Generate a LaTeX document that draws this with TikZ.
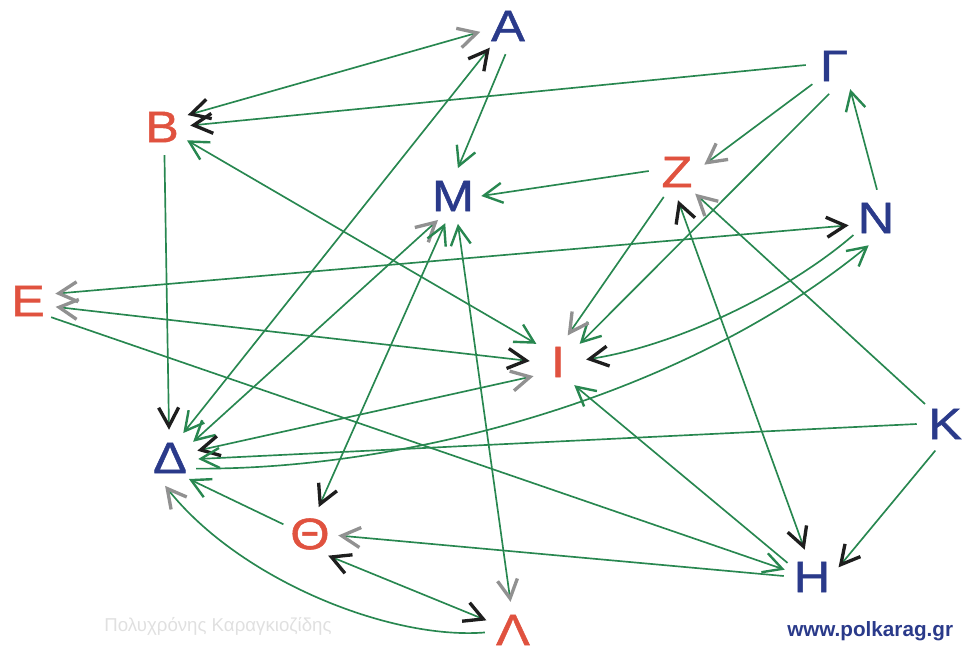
\documentclass[tikz,border=0pt]{standalone}
\usepackage{fontspec}
\setmainfont{Liberation Sans}
\newfontfamily\lf[FakeStretch=1.15,FakeBold=1.2]{Liberation Sans}
\usetikzlibrary{arrows.meta}
\definecolor{eg}{RGB}{40,135,80}
\definecolor{nb}{RGB}{42,58,138}
\definecolor{nr}{RGB}{224,82,63}
\definecolor{hy}{RGB}{145,145,145}
\definecolor{hk}{RGB}{30,30,30}
\tikzset{
  tg/.tip={Straight Barb[length=14pt,width=15pt,line width=1.8pt,eg]},
  tk/.tip={Straight Barb[length=14pt,width=15pt,line width=2.5pt,hk]},
  ty/.tip={Straight Barb[length=14pt,width=15pt,line width=2.5pt,hy]},
  edg/.style={draw=eg,line width=1.25pt},
  lt/.style={circle,inner sep=0pt,minimum size=42pt,font=\lf\fontsize{33}{33}\selectfont},
  bl/.style={lt,text=nb},
  rd/.style={lt,text=nr}
}
\begin{document}
\begin{tikzpicture}[x=0.75pt,y=-0.75pt]
\path[use as bounding box] (0,0) rectangle (965,654);
% nodes
\node[bl] (A) at (508,26) {Α};
\node[rd] (B) at (162,127) {Β};
\node[bl] (G) at (834,66) {Γ};
\node[bl] (M) at (453,196) {Μ};
\node[rd] (Z) at (677,172) {Ζ};
\node[bl] (N) at (876,218) {Ν};
\node[rd] (E) at (28,301) {Ε};
\node[rd] (I) at (558,362) {Ι};
\node[bl] (D) at (170,458) {Δ};
\node[bl] (K) at (945,424) {Κ};
\node[rd] (T) at (310,534) {Θ};
\node[bl] (H) at (812,577) {Η};
\node[rd] (L) at (513,630) {Λ};
\node[anchor=base west,text=nb,font=\bfseries\fontsize{15.5}{15.5}\selectfont,inner sep=0pt] (web) at (787,636) {www.polkarag.gr};
\node[text=black!12,font=\fontsize{14}{14}\selectfont,inner sep=0pt] (auth) at (218,626) {Πολυχρόνης Καραγκιοζίδης};
% edges
\draw[edg,tk-ty] (B.25) -- (A.-168);
\draw[edg,-tk] (G.178) -- (B.3);
\draw[edg,tg-tg] (B.-28) -- (I.140);
\draw[edg,-tg] (A.-95) -- (M.80);
\draw[edg,tg-tk] (D.62) -- (A.-130);
\draw[edg,tg-ty] (D.35) -- (M.-122);
\draw[edg,tk-tg] (T.72) -- (M.-106);
\draw[edg,ty-tg] (L.95) -- (M.-80);
\draw[edg,-tg] (Z.178) -- (M.0);
\draw[edg,-ty] (G.-140) -- (Z.15);
\draw[edg,-tg] (G.-100) -- (I.40);
\draw[edg,-tg] (N.88) -- (G.-55);
\draw[edg,ty-tk] (E.15) -- (N.-165);
\draw[edg,ty-tk] (E.-12) -- (I.178);
\draw[edg,-tg] (E.-35) -- (H.165);
\draw[edg,-tk] (B.-85) -- (D.92);
\draw[edg,-ty] (Z.-118) -- (I.70);
\draw[edg,-tk] (N.-143) .. controls (790,290) and (680,345) .. (I.5);
\draw[edg,tk-ty] (D.15) -- (I.-150);
\draw[edg,-tg] (K.180) -- (D.-2);
\draw[edg,-tg] (D.-22) .. controls (400,470) and (680,400) .. (N.-105);
\draw[edg,-tg] (T.160) -- (D.-48);
\draw[edg,-ty] (L.185) .. controls (390,640) and (240,580) .. (D.-100);
\draw[edg,tk-tk] (T.-50) -- (L.160);
\draw[edg,-ty] (H.178) -- (T.-3);
\draw[edg,-tg] (H.150) -- (I.-55);
\draw[edg,tk-tk] (Z.-88) -- (H.105);
\draw[edg,-ty] (K.135) -- (Z.-50);
\draw[edg,-tk] (K.-110) -- (H.20);
\end{tikzpicture}
\end{document}
